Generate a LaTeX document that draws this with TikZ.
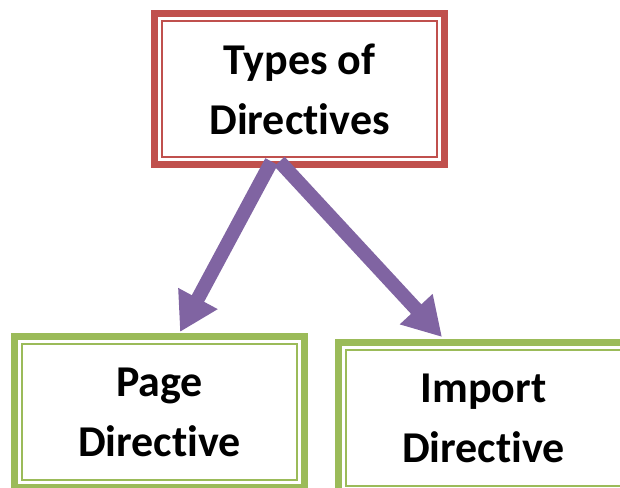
\documentclass[tikz,border=0pt]{standalone}
\usepackage{fontspec}
\setmainfont{Carlito}[Ligatures=NoCommon]
\usepackage{xcolor}
\usetikzlibrary{arrows.meta, positioning, calc}
\definecolor{boxred}{HTML}{C0504D}
\definecolor{boxgreen}{HTML}{9BBB59}
\definecolor{linkpurple}{HTML}{8064A2}

\begin{document}
\begin{tikzpicture}[x=1pt, y=-1pt,
    box/.style={draw, line width=7pt, outer sep=0pt, minimum width=290pt, minimum height=151pt,
      align=center, font=\bfseries\fontsize{44}{60}\selectfont},
    innerline/.style={line width=1.8pt},
    link/.style={draw=linkpurple, line width=14pt,
      -{Triangle[length=38pt, width=42pt]}}]
      \clip (0,0) rectangle (620,487);

      \node[box, draw=boxred] at (299.5,89) (types) {Types of\\Directives};
      \node[box, draw=boxgreen] at (159.5,412) (page) {Page\\Directive};
      \node[box, draw=boxgreen] at (483.5,418) (import) {Import\\Directive};

      % thin inner frames
      \draw[innerline, boxred] ([shift={(7.5,7.5)}]types.north west) rectangle ([shift={(-7.5,-7.5)}]types.south east);
      \draw[innerline, boxgreen] ([shift={(7.5,7.5)}]page.north west) rectangle ([shift={(-7.5,-7.5)}]page.south east);
      \draw[innerline, boxgreen] ([shift={(7.5,7.5)}]import.north west) rectangle ([shift={(-7.5,-7.5)}]import.south east);

      \draw[link] ([shift={(-28,-3)}]types.south) -- ([shift={(20.5,-4.5)}]page.north);
      \draw[link] ([shift={(-20,-3)}]types.south) -- ([shift={(-41.5,-5.5)}]import.north);
    \end{tikzpicture}
\end{document}
